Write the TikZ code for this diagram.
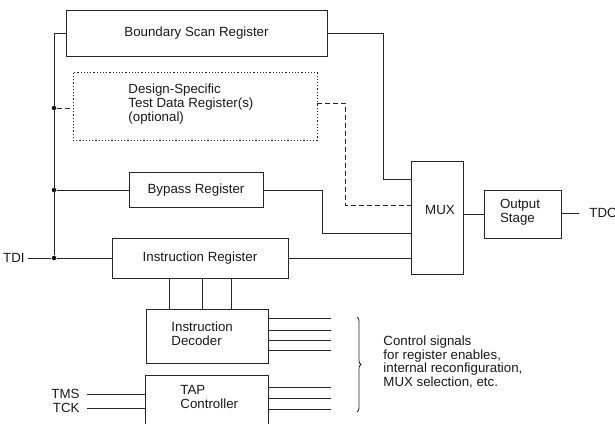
\documentclass[tikz,border=0pt]{standalone}
\usepackage{fontspec}
\setmainfont{Liberation Sans}
\usetikzlibrary{decorations.pathreplacing}
\begin{document}
\begin{tikzpicture}[x=1pt,y=-1pt,
  line width=0.9pt, draw=black!85,
  every node/.style={font=\fontsize{13.3}{13.7}\selectfont, text=black!90},
  blk/.style={draw, rectangle, inner sep=0pt},
  lbl/.style={inner sep=0pt, align=left},
  dashedline/.style={dash pattern=on 5pt off 3pt},
  dotbox/.style={draw, rectangle, inner sep=0pt, dash pattern=on 1.2pt off 2pt},
  jdot/.style={circle, fill=black, inner sep=0pt, minimum size=4.5pt}]
\clip (0,0) rectangle (615,423);

% register blocks
\node[blk, minimum width=261pt, minimum height=46pt] (bsr) at (196.5,33) {Boundary Scan Register};
\node[dotbox, minimum width=244pt, minimum height=68pt] (dsr) at (195,106) {};
\node[lbl, anchor=west] (dsrtxt) at (128,104) {Design-Specific\\Test Data Register(s)\\(optional)};
\node[blk, minimum width=134pt, minimum height=35pt] (byp) at (196,190) {Bypass Register};
\node[blk, minimum width=176pt, minimum height=40pt] (ir) at (200,258) {Instruction Register};
\node[blk, minimum width=52pt, minimum height=113pt] (mux) at (437,217.5) {};
\node[lbl] (muxtxt) at (440,210) {MUX};
\node[blk, minimum width=77pt, minimum height=48pt] (out) at (523,214) {};
\node[lbl] (outtxt) at (520,212) {Output\\Stage};
\node[blk, minimum width=122pt, minimum height=54pt] (dec) at (207,336) {};
\node[lbl, anchor=west] (dectxt) at (171,334) {Instruction\\Decoder};
\node[blk, minimum width=123pt, minimum height=70pt] (tap) at (206.5,410) {};
\node[lbl, anchor=west] (taptxt) at (180,397) {TAP\\Controller};

% pins
\node[lbl, anchor=east] (tdi) at (25,258) {TDI};
\node[lbl, anchor=west] (tdo) at (589,213) {TDO};
\node[lbl, anchor=east] (tms) at (80,394) {TMS};
\node[lbl, anchor=east] (tck) at (80,408) {TCK};
\node[lbl, anchor=west] (ctl) at (383,362) {Control signals\\for register enables,\\internal reconfiguration,\\MUX selection, etc.};

% scan-in bus and junctions
\coordinate (bustop) at (54,33);
\node[jdot] (j1) at (54,108) {};
\node[jdot] (j2) at (54,190) {};
\node[jdot] (j3) at (54,258) {};
\draw (tdi.east) ++(3,0) -- (j3) -- (ir.west);
\draw (j3) -- (bustop) -- (bsr.west);
\draw (j2) -- (byp.west);
\draw[dashedline] (j1) -- (j1 -| dsr.west);

% register outputs into the MUX
\draw (bsr.east) -- (383,33) -- (383,179) -- (mux.west |- 0,179);
\draw[dashedline] (dsr.east |- 0,103) -- (345,103) -- (345,205) -- (mux.west |- 0,205);
\draw (byp.east) -- (322,190) -- (322,233) -- (mux.west |- 0,233);
\draw (ir.east) -- (mux.west |- ir.east);
\draw (mux.east |- out.west) -- (out.west);
\draw (out.east |- tdo.west) -- ++(17,0);

% instruction register to decoder
\foreach \xx in {169,202,231}
  \draw (\xx,0 |- ir.south) -- (\xx,0 |- dec.north);

% control outputs
\foreach \yy in {318,330,340,350}
  \draw (dec.east |- 0,\yy) -- (331,\yy);
\foreach \yy in {387,398,409}
  \draw (tap.east |- 0,\yy) -- (331,\yy);
\draw (tms.east) ++(7,0) -- (tap.west |- tms.east);
\draw (tck.east) ++(7,0) -- (tap.west |- tck.east);
\draw[decorate, decoration={brace, amplitude=4pt}, line width=0.8pt] (357,317) -- (357,412);
\end{tikzpicture}
\end{document}
